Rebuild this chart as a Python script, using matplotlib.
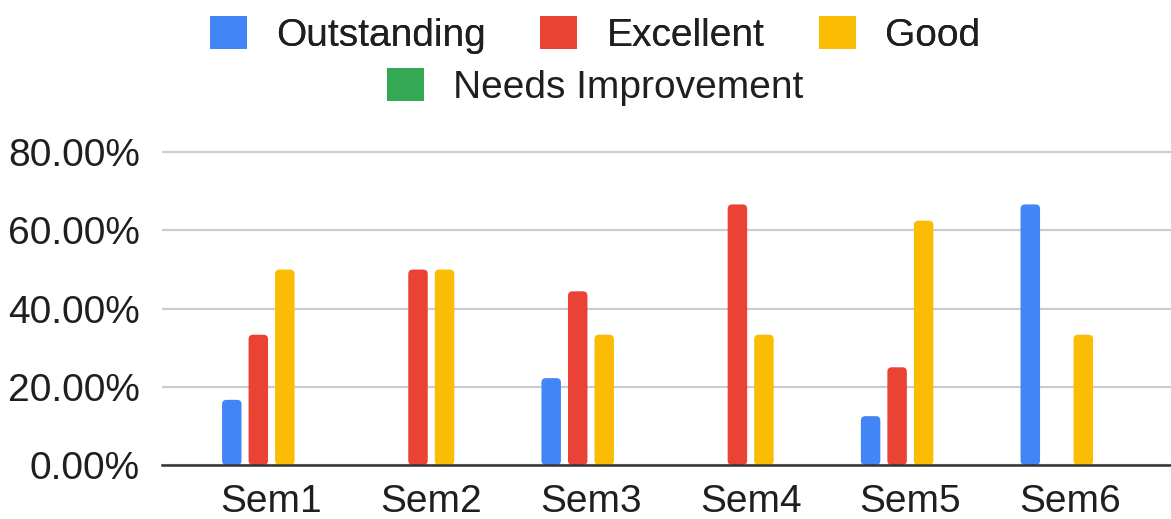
import matplotlib
matplotlib.use("Agg")
import matplotlib.pyplot as plt
from matplotlib.patches import Patch, FancyBboxPatch
import numpy as np

categories = ["Sem1", "Sem2", "Sem3", "Sem4", "Sem5", "Sem6"]
series_names = ["Outstanding", "Excellent", "Good", "Needs Improvement"]
outstanding = [16.67, 0, 22.22, 0, 12.5, 66.67]
excellent = [33.33, 50.0, 44.44, 66.67, 25.0, 0]
good = [50.0, 50.0, 33.33, 33.33, 62.5, 33.33]
needs_improvement = [0, 0, 0, 0, 0, 0]
yticks = [0, 20, 40, 60, 80]
colors = ["#4285F4", "#EA4335", "#FBBC04", "#34A853"]

plt.rcParams['font.family'] = ['Liberation Sans', 'DejaVu Sans']

W, H = 1171, 519
fig = plt.figure(figsize=(W / 100, H / 100), dpi=100)
ax = fig.add_axes([162 / W, (H - 465) / H, 1 - 162 / W, (465 - 148.4) / H])

x = np.arange(len(categories))
pitch = 0.166
width = 0.122
all_series = [outstanding, excellent, good, needs_improvement]
px_per_x = 159.7
px_per_y = 3.909
r_px = 4.5
for i, (vals, c) in enumerate(zip(all_series, colors)):
    bars = ax.bar(x + (i - 1.5) * pitch, vals, width, color=c, zorder=3)
    for b in bars:
        h = b.get_height()
        b.set_visible(False)
        if h <= 0:
            continue
        fb = FancyBboxPatch((b.get_x(), b.get_y()), b.get_width(), h,
                            boxstyle=f"round,pad=0,rounding_size={r_px / px_per_x}",
                            mutation_aspect=px_per_x / px_per_y,
                            facecolor=c, edgecolor='none', zorder=3)
        ax.add_patch(fb)

ax.set_xlim(-0.686, 5.632)
ax.set_ylim(0, 81)
ax.set_yticks(yticks)
ax.set_yticklabels([f"{v:.2f}%" for v in yticks])
ax.set_xticks(x)
ax.set_xticklabels(categories)
ax.tick_params(axis='both', length=0, labelsize=28, colors='#1f1f1f')
ax.tick_params(axis='y', pad=16)
ax.tick_params(axis='x', pad=14)
ax.grid(axis='y', color='#cccccc', linewidth=1.6, zorder=0)
ax.set_axisbelow(True)
for s in ['top', 'right', 'left']:
    ax.spines[s].set_visible(False)
ax.spines['bottom'].set_color('#333333')
ax.spines['bottom'].set_linewidth(1.8)
ax.spines['bottom'].set_zorder(4)

handles = [Patch(facecolor=c, edgecolor='none') for c in colors]
leg1 = fig.legend(handles[:3], series_names[:3], ncol=3, loc='center',
                  bbox_to_anchor=(595 / W, 1 - 35 / H), frameon=False,
                  fontsize=28, handlelength=0.95, handleheight=0.95,
                  handletextpad=0.75, columnspacing=1.4, labelcolor='#1f1f1f')
fig.add_artist(leg1)
leg2 = fig.legend(handles[3:], series_names[3:], ncol=1, loc='center',
                  bbox_to_anchor=(595 / W, 1 - 87 / H), frameon=False,
                  fontsize=28, handlelength=0.95, handleheight=0.95,
                  handletextpad=0.75, labelcolor='#1f1f1f')

fig.savefig("out.png", dpi=100)
